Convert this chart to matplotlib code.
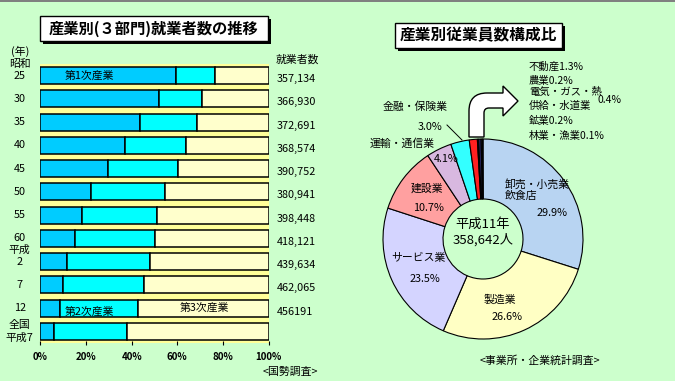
import matplotlib
matplotlib.use("Agg")
import matplotlib.pyplot as plt
import numpy as np
from matplotlib.patches import Rectangle, PathPatch
from matplotlib.path import Path
from matplotlib.transforms import Affine2D, blended_transform_factory

plt.rcParams['font.family'] = ['Noto Sans CJK JP', 'DejaVu Sans']

# --- left chart data: share of workers by sector (%) ---
years = ["25", "30", "35", "40", "45", "50", "55", "60", "2", "7", "12", "全国\n平成7"]
primary = [59.6, 52.1, 43.8, 37.2, 29.8, 22.3, 18.4, 15.3, 11.8, 10.1, 8.8, 6.0]
secondary = [16.9, 18.6, 24.7, 26.5, 30.4, 32.2, 32.7, 34.8, 36.2, 35.3, 34.0, 32.0]
tertiary = [23.5, 29.3, 31.5, 36.3, 39.8, 45.5, 48.9, 49.9, 52.0, 54.6, 57.2, 62.0]
workers = ["357,134", "366,930", "372,691", "368,574", "390,752", "380,941",
           "398,448", "418,121", "439,634", "462,065", "456191", ""]

# --- right chart data: employees by industry (%) ---
industries = ["卸売・小売業,飲食店", "製造業", "サービス業", "建設業", "運輸・通信業",
              "金融・保険業", "不動産", "農業", "電気・ガス・熱供給・水道業", "鉱業", "林業・漁業"]
shares = [29.9, 26.6, 23.5, 10.7, 4.1, 3.0, 1.3, 0.2, 0.4, 0.2, 0.1]
pie_colors = ["#B8D4F2", "#FFFFC4", "#D4D4FF", "#FFA0A0", "#D8B8E0", "#33FFFF",
              "#FF2020", "#A00000", "#2A2A6A", "#7070A8", "#CC00CC"]

W, H = 675, 381
fig = plt.figure(figsize=(W / 100, H / 100), dpi=100)
fig.patch.set_facecolor("#CCFFCC")
px = Affine2D().scale(1 / W, -1 / H).translate(0, 1) + fig.transFigure

# top border
fig.add_artist(Rectangle((0, 0), W, 2, transform=px, color="#808080", lw=0))


def title_box(x0, y0, w, h, text, size):
    fig.add_artist(Rectangle((x0 + 3, y0 + 3), w, h, transform=px, color="black", lw=0))
    fig.add_artist(Rectangle((x0, y0), w, h, transform=px, facecolor="white",
                             edgecolor="black", lw=1))
    fig.text(x0 + w / 2, y0 + h / 2, text, transform=px, ha="center", va="center",
             fontsize=size, fontweight="bold")


title_box(40, 16, 228, 25, "産業別(３部門)就業者数の推移", 11)
title_box(395, 23, 167, 25, "産業別従業員数構成比", 11.3)

fs = 7.8

# ---------------- bar chart ----------------
ax = fig.add_axes([40.3 / W, 1 - 343 / H, 228.2 / W, 279 / H])
ax.set_facecolor("#FFFF99")
y = np.arange(len(years))
p = np.array(primary)
s = np.array(secondary)
t = np.array(tertiary)
kw = dict(height=0.74, edgecolor="black", linewidth=1.1)
ax.barh(y, p, color="#00CCFF", **kw)
ax.barh(y, s, left=p, color="#00FFFF", **kw)
ax.barh(y, t, left=p + s, color="#FFFFCC", **kw)
ax.set_xlim(0, 100)
ax.set_ylim(len(years) - 0.5, -0.5)
ax.set_yticks([])
ax.set_xticks(range(0, 101, 20))
ax.set_xticklabels([f"{v}%" for v in range(0, 101, 20)], fontsize=7, fontweight="bold")
ax.tick_params(axis="x", length=3, width=0.8, direction="inout", pad=5)
for sp in ax.spines.values():
    sp.set_visible(False)

tr = blended_transform_factory(ax.transAxes, ax.transData)
for i, (yr, n) in enumerate(zip(years, workers)):
    ax.text(-0.09, i, yr, transform=tr, ha="center", va="center", fontsize=fs,
            linespacing=1.25)
    ax.text(1.037, i + 0.15, n, transform=tr, ha="left", va="center", fontsize=fs)
ax.text(-0.09, -0.5, "昭和", transform=tr, ha="center", va="center", fontsize=fs)
ax.text(-0.09, 7.5, "平成", transform=tr, ha="center", va="center", fontsize=fs)
ax.text(-0.09, -1.05, "(年)", transform=tr, ha="center", va="center", fontsize=fs)
ax.text(1.03, -0.7, "就業者数", transform=tr, ha="left", va="center", fontsize=fs)

ax.text(21.5, 0, "第1次産業", ha="center", va="center", fontsize=fs)
ax.text(p[10] + 12.5, 10.15, "第2次産業", ha="center", va="center", fontsize=fs)
ax.text(72, 10, "第3次産業", ha="center", va="center", fontsize=fs)
fig.text(318, 372, "<国勢調査>", transform=px, ha="right", va="center", fontsize=fs)

# ---------------- donut chart ----------------
cx, cy = 483, 239
pax = fig.add_axes([340 / W, 0, 335 / W, 1])
pax.axis("off")
pax.pie(shares, colors=pie_colors, startangle=90, counterclock=False, radius=1.0,
        wedgeprops=dict(width=0.6, edgecolor="black", linewidth=0.8))
pax.set_aspect("equal")
pax.set_xlim((340 - cx) / 100, (675 - cx) / 100)
pax.set_ylim((cy - 381) / 100, cy / 100)

pax.text(0.22, 0.49, "卸売・小売業\n飲食店", ha="left", va="center", fontsize=fs, linespacing=1.2)
pax.text(0.69, 0.26, f"{shares[0]}%", ha="center", va="center", fontsize=fs)
pax.text(0.17, -0.61, "製造業", ha="center", va="center", fontsize=fs)
pax.text(0.24, -0.78, f"{shares[1]}%", ha="center", va="center", fontsize=fs)
pax.text(-0.65, -0.19, "サービス業", ha="center", va="center", fontsize=fs)
pax.text(-0.58, -0.40, f"{shares[2]}%", ha="center", va="center", fontsize=fs)
pax.text(-0.56, 0.50, "建設業", ha="center", va="center", fontsize=fs)
pax.text(-0.55, 0.31, f"{shares[3]}%", ha="center", va="center", fontsize=fs)
pax.text(-0.37, 0.80, f"{shares[4]}%", ha="center", va="center", fontsize=fs)
pax.text(-0.81, 0.95, "運輸・通信業", ha="center", va="center", fontsize=fs)
pax.text(-0.53, 1.12, f"{shares[5]}%", ha="center", va="center", fontsize=fs)
pax.plot([-0.36, -0.21], [1.14, 0.99], color="black", lw=0.7)
pax.text(-0.68, 1.32, "金融・保険業", ha="center", va="center", fontsize=fs)

lx = 0.46
lfs = 7.5
pax.text(lx, 1.72, f"不動産{shares[6]}%", ha="left", va="center", fontsize=lfs)
pax.text(lx, 1.58, f"農業{shares[7]}%", ha="left", va="center", fontsize=lfs)
pax.text(lx, 1.47, "電気・ガス・熱", ha="left", va="center", fontsize=lfs)
pax.text(lx, 1.33, "供給・水道業", ha="left", va="center", fontsize=lfs)
pax.text(1.15, 1.39, f"{shares[8]}%", ha="left", va="center", fontsize=lfs)
pax.text(lx, 1.18, f"鉱業{shares[9]}%", ha="left", va="center", fontsize=lfs)
pax.text(lx, 1.03, f"林業・漁業{shares[10]}%", ha="left", va="center", fontsize=lfs)

pax.text(0, 0.07, "平成11年\n358,642人", ha="center", va="center", fontsize=9.5, linespacing=1.2)
pax.text(0.57, -1.22, "<事業所・企業統計調査>", ha="center", va="center", fontsize=fs)

# bent arrow from the top of the donut
verts = [(-0.14, 1.02), (-0.14, 1.28), (-0.14, 1.46), (0.04, 1.46), (0.20, 1.46),
         (0.20, 1.53), (0.35, 1.38), (0.20, 1.23), (0.20, 1.31), (0.06, 1.31),
         (0.01, 1.31), (0.01, 1.26), (0.01, 1.02), (-0.14, 1.02)]
codes = [Path.MOVETO, Path.LINETO, Path.CURVE3, Path.CURVE3, Path.LINETO,
         Path.LINETO, Path.LINETO, Path.LINETO, Path.LINETO, Path.LINETO,
         Path.CURVE3, Path.CURVE3, Path.LINETO, Path.CLOSEPOLY]
pax.add_patch(PathPatch(Path(verts, codes), facecolor="white", edgecolor="black", lw=1))

fig.savefig("out.png", dpi=100, facecolor=fig.get_facecolor())
